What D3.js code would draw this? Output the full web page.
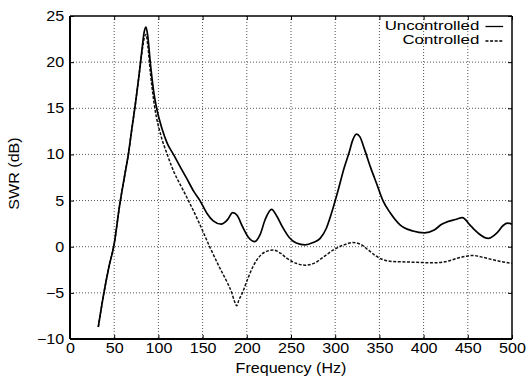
<!DOCTYPE html>
<html>
<head>
<meta charset="utf-8">
<script src="https://cdn.jsdelivr.net/npm/d3@7"></script>
<style>
  html, body { margin: 0; padding: 0; background: #fff; }
  svg { display: block; }
  text { font-family: "Liberation Sans", Arial, Helvetica, sans-serif; fill: #000; }
</style>
</head>
<body>
<svg id="chart" width="527" height="379"></svg>
<script>
// ---- data ----
const xTicks = [0, 50, 100, 150, 200, 250, 300, 350, 400, 450, 500];
const yTicks = [-10, -5, 0, 5, 10, 15, 20, 25];
const xLabel = "Frequency (Hz)";
const yLabel = "SWR (dB)";
const seriesNames = ["Uncontrolled", "Controlled"];

const freqUncontrolled = [32, 38, 44, 50, 56, 62, 66, 70, 74, 78, 81, 84, 86, 88, 91, 95, 98, 104, 110, 117, 125, 132, 140, 147, 155, 162, 171, 178, 184, 189, 195, 202, 209, 215, 221, 228, 234, 240, 248, 256, 266, 275, 283, 290, 297, 303, 310, 316, 320, 324, 328, 333, 340, 347, 354, 362, 373, 388, 401, 412, 420, 428, 436, 444, 452, 458, 464, 473, 483, 490, 495, 500];
const dbUncontrolled = [-8.7, -5.2, -2.2, 0.3, 4.4, 7.8, 10, 12.8, 15.5, 18.5, 21, 23.3, 23.8, 22.8, 19.8, 16.6, 15, 12.8, 11.2, 10, 8.6, 7.4, 6, 5, 3.6, 2.8, 2.45, 2.9, 3.7, 3.4, 2.2, 1.0, 0.55, 1.3, 3.0, 4.05, 3.3, 2.2, 1.0, 0.4, 0.2, 0.45, 0.9, 2.0, 4.0, 6.0, 8.5, 10.3, 11.6, 12.2, 11.9, 10.6, 8.6, 6.8, 5.0, 3.7, 2.4, 1.7, 1.5, 1.8, 2.4, 2.75, 2.95, 3.15, 2.4, 1.8, 1.3, 0.9, 1.5, 2.3, 2.55, 2.45];

const freqControlled = [32, 38, 44, 50, 56, 62, 66, 70, 74, 78, 81, 84, 86, 88, 91, 96, 103, 110, 118, 126, 134, 146, 158, 170, 178, 183, 186, 188.5, 191, 195, 201, 207, 214, 220, 226, 230, 238, 246, 256, 266, 276, 287, 298, 310, 320, 328, 338, 346, 354, 365, 380, 395, 411, 426, 440, 450, 456, 465, 478, 490, 500];
const dbControlled = [-8.7, -5.2, -2.2, 0.3, 4.4, 7.8, 10, 12.8, 15.5, 18.5, 20.8, 22.6, 23.0, 21.8, 18.8, 15, 12, 10, 8.0, 6.5, 5, 2.6, 0, -2.4, -3.9, -5, -5.9, -6.4, -5.8, -5, -3.5, -2.15, -1.1, -0.6, -0.4, -0.35, -0.7, -1.3, -1.8, -2.0, -1.8, -1.1, -0.35, 0.2, 0.45, 0.3, -0.4, -1.0, -1.4, -1.6, -1.65, -1.7, -1.75, -1.6, -1.2, -1.0, -0.95, -1.1, -1.4, -1.65, -1.8];

// ---- layout ----
const W = 527, H = 379;
const margin = { left: 70, right: 15, top: 16, bottom: 40 };
const iw = W - margin.left - margin.right;
const ih = H - margin.top - margin.bottom;
const SX = 1.15; // horizontal stretch of the scanned lettering
const FS = 14;

const svg = d3.select("#chart");
const g = svg.append("g").attr("transform", `translate(${margin.left},${margin.top})`);

const x = d3.scaleLinear().domain([0, 500]).range([0, iw]);
const y = d3.scaleLinear().domain([-10, 25]).range([ih, 0]);

// gridlines
const grid = g.append("g").attr("class", "grid");
grid.selectAll("line.v").data(xTicks.slice(1, -1)).join("line")
  .attr("x1", d => x(d)).attr("x2", d => x(d)).attr("y1", 0).attr("y2", ih)
  .attr("stroke", "#555").attr("stroke-width", 1).attr("stroke-dasharray", "1,2");
grid.selectAll("line.h").data(yTicks.slice(1, -1)).join("line")
  .attr("x1", 0).attr("x2", iw).attr("y1", d => y(d)).attr("y2", d => y(d))
  .attr("stroke", "#555").attr("stroke-width", 1).attr("stroke-dasharray", "1,2");

// axes
const axBottom = g.append("g").attr("transform", `translate(0,${ih})`)
  .call(d3.axisBottom(x).tickValues(xTicks).tickSizeInner(-4).tickSizeOuter(0).tickPadding(4));
const axLeft = g.append("g")
  .call(d3.axisLeft(y).tickValues(yTicks).tickSizeInner(-4).tickSizeOuter(0).tickPadding(5));
const axTop = g.append("g")
  .call(d3.axisTop(x).tickValues(xTicks).tickSizeInner(-4).tickSizeOuter(0).tickFormat(""));
const axRight = g.append("g").attr("transform", `translate(${iw},0)`)
  .call(d3.axisRight(y).tickValues(yTicks).tickSizeInner(-4).tickSizeOuter(0).tickFormat(""));

[axBottom, axLeft, axTop, axRight].forEach(a => {
  a.select(".domain").remove();
  a.selectAll(".tick line").attr("stroke", "#000").attr("stroke-width", 1);
});
axBottom.selectAll("text").attr("font-size", FS).attr("font-family", null)
  .attr("transform", `scale(${SX},1)`).attr("fill", "#000");
axLeft.selectAll("text").attr("font-size", FS).attr("font-family", null)
  .attr("transform", `scale(${SX},1)`).attr("fill", "#000");

// frame
g.append("line").attr("x1", 0).attr("x2", iw).attr("y1", 0).attr("y2", 0).attr("stroke", "#000").attr("stroke-width", 1.5);
g.append("line").attr("x1", iw).attr("x2", iw).attr("y1", 0).attr("y2", ih).attr("stroke", "#000").attr("stroke-width", 1.5);
g.append("line").attr("x1", 0).attr("x2", iw).attr("y1", ih).attr("y2", ih).attr("stroke", "#000").attr("stroke-width", 2);
g.append("line").attr("x1", 0).attr("x2", 0).attr("y1", 0).attr("y2", ih).attr("stroke", "#000").attr("stroke-width", 2);

// curves
const line = d3.line().x(d => x(d[0])).y(d => y(d[1])).curve(d3.curveMonotoneX);
const dataU = freqUncontrolled.map((f, i) => [f, dbUncontrolled[i]]);
const dataC = freqControlled.map((f, i) => [f, dbControlled[i]]);

g.append("path").datum(dataC).attr("d", line)
  .attr("fill", "none").attr("stroke", "#111").attr("stroke-width", 1.5).attr("stroke-dasharray", "3,1.6");
g.append("path").datum(dataU).attr("d", line)
  .attr("fill", "none").attr("stroke", "#000").attr("stroke-width", 1.7);

// legend
const legend = g.append("g");
const legRows = [
  { name: seriesNames[0], dash: null, ty: 13.5, ly: 10.5 },
  { name: seriesNames[1], dash: "3,1.6", ty: 28, ly: 25 }
];
legRows.forEach(r => {
  legend.append("text")
    .attr("transform", `translate(${x(463)},${r.ty}) scale(1.25,1)`)
    .attr("text-anchor", "end").attr("font-size", 13.5).text(r.name);
  legend.append("line")
    .attr("x1", x(470)).attr("x2", x(490)).attr("y1", r.ly).attr("y2", r.ly)
    .attr("stroke", "#000").attr("stroke-width", 1.3)
    .attr("stroke-dasharray", r.dash);
});

// axis titles
svg.append("text")
  .attr("transform", `translate(${margin.left + iw / 2},${H - 6}) scale(${SX},1)`)
  .attr("text-anchor", "middle").attr("font-size", FS).text(xLabel);
svg.append("text")
  .attr("transform", `translate(19,${margin.top + ih / 2 - 4}) rotate(-90) scale(${SX},1)`)
  .attr("text-anchor", "middle").attr("font-size", FS).text(yLabel);
</script>
</body>
</html>
